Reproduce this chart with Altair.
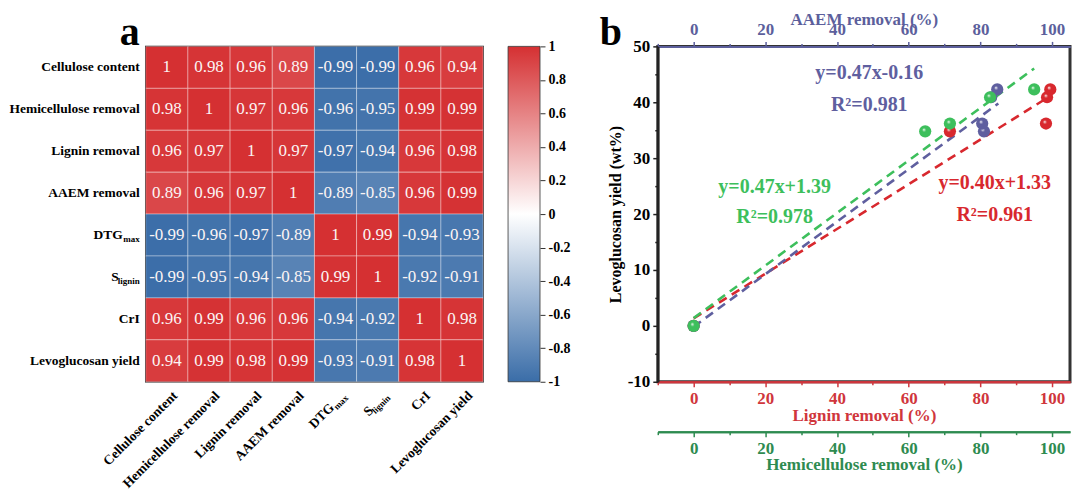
import altair as alt
import pandas as pd

FONT = "Liberation Serif"

# ---------------- panel a : correlation matrix ----------------
var_keys = ["Cellulose content", "Hemicellulose removal", "Lignin removal", "AAEM removal",
            "DTGmax", "Slignin", "CrI", "Levoglucosan yield"]
plain_keys = ["Cellulose content", "Hemicellulose removal", "Lignin removal", "AAEM removal",
              "CrI", "Levoglucosan yield"]
sub_keys = ["DTGmax", "Slignin"]
sub_main = ["DTG", "S"]
sub_small = ["max", "lignin"]
sub_width = [17, 21]

corr_cellulose = [1, 0.98, 0.96, 0.89, -0.99, -0.99, 0.96, 0.94]
corr_hemi = [0.98, 1, 0.97, 0.96, -0.96, -0.95, 0.99, 0.99]
corr_lignin = [0.96, 0.97, 1, 0.97, -0.97, -0.94, 0.96, 0.98]
corr_aaem = [0.89, 0.96, 0.97, 1, -0.89, -0.85, 0.96, 0.99]
corr_dtg = [-0.99, -0.96, -0.97, -0.89, 1, 0.99, -0.94, -0.93]
corr_slig = [-0.99, -0.95, -0.94, -0.85, 0.99, 1, -0.92, -0.91]
corr_cri = [0.96, 0.99, 0.96, 0.96, -0.94, -0.92, 1, 0.98]
corr_lg = [0.94, 0.99, 0.98, 0.99, -0.93, -0.91, 0.98, 1]
corr_rows = [corr_cellulose, corr_hemi, corr_lignin, corr_aaem,
             corr_dtg, corr_slig, corr_cri, corr_lg]

cbar_ticks = [-1, -0.8, -0.6, -0.4, -0.2, 0, 0.2, 0.4, 0.6, 0.8, 1]

HEAT_RED = "#D53032"
HEAT_BLUE = "#3A6DA8"

# ---------------- panel b : levoglucosan yield vs removal ----------------
yield_vals = [0, 34.8, 36.2, 40.9, 42.3]
lignin_x = [0, 71.5, 98.3, 98.6, 99.5]
hemi_x = [0, 64.6, 71.5, 82.7, 95.0]
aaem_x = [0, 81.0, 80.5, 83.0, 84.7]

fit_names = ["lignin", "hemi", "aaem"]
fit_slope = [0.40, 0.47, 0.47]
fit_intercept = [1.33, 1.39, -0.16]
fit_xmax = [99.5, 95.0, 85.0]

eq_text = ["y=0.47x-0.16", "R\u00b2=0.981", "y=0.47x+1.39", "R\u00b2=0.978",
           "y=0.40x+1.33", "R\u00b2=0.961"]
eq_x = [49, 49, 22.6, 22.6, 84, 84]
eq_y = [45.2, 39.5, 24.8, 19.5, 25.5, 19.8]

RED = "#D8282E"
GREEN = "#3DBF5C"
BLUE = "#5F5F9F"
AX_RED = "#D0363C"
AX_GREEN = "#2E8B50"
AX_BLUE = "#5C5F9C"
eq_color = [BLUE, BLUE, GREEN, GREEN, RED, RED]

# ======================= heatmap =======================
HW, HH = 338, 336
cells = []
for r, vals in zip(var_keys, corr_rows):
    for c, v in zip(var_keys, vals):
        cells.append({"row": r, "col": c, "value": v, "label": f"{v:g}"})
cells = pd.DataFrame(cells)

xcol = alt.X("col:N", sort=var_keys, axis=None, scale=alt.Scale(domain=var_keys))
yrow = alt.Y("row:N", sort=var_keys, axis=None, scale=alt.Scale(domain=var_keys))

rects = alt.Chart(cells).mark_rect(stroke="#ffffff", strokeWidth=1, strokeOpacity=0.35).encode(
    x=xcol, y=yrow,
    color=alt.Color("value:Q", legend=None,
                    scale=alt.Scale(domain=[-1, 0, 1], range=[HEAT_BLUE, "#ffffff", HEAT_RED],
                                    interpolate="rgb")),
)
cell_txt = alt.Chart(cells).mark_text(font=FONT, fontSize=17, color="#fbf4f4").encode(
    x=xcol, y=yrow, text="label:N")

row_plain = pd.DataFrame({"row": plain_keys, "col": plain_keys})
row_lab = alt.Chart(row_plain).mark_text(
    font=FONT, fontSize=13.5, fontWeight="bold", color="black", align="right", baseline="middle"
).encode(y=yrow, x=alt.value(-6), text="row:N")

col_lab = alt.Chart(row_plain).mark_text(
    font=FONT, fontSize=13.5, fontWeight="bold", color="black", align="right", baseline="middle",
    angle=315, dx=6, dy=6
).encode(x=xcol, y=alt.value(HH + 12), text="col:N")

sub_layers = []
for k, m, s, w in zip(sub_keys, sub_main, sub_small, sub_width):
    d = pd.DataFrame({"row": [k], "col": [k], "main": [m], "sub": [s]})
    b = alt.Chart(d)
    sub_layers.append(b.mark_text(font=FONT, fontSize=13.5, fontWeight="bold", color="black",
                                  align="right", baseline="middle")
                      .encode(y=yrow, x=alt.value(-6 - w), text="main:N"))
    sub_layers.append(b.mark_text(font=FONT, fontSize=9, fontWeight="bold", color="black",
                                  align="right", baseline="middle", dy=4)
                      .encode(y=yrow, x=alt.value(-6), text="sub:N"))
    sub_layers.append(b.mark_text(font=FONT, fontSize=13.5, fontWeight="bold", color="black",
                                  align="right", baseline="middle", angle=315, dx=6 - w, dy=6)
                      .encode(x=xcol, y=alt.value(HH + 12), text="main:N"))
    sub_layers.append(b.mark_text(font=FONT, fontSize=9, fontWeight="bold", color="black",
                                  align="right", baseline="middle", angle=315, dx=6, dy=10)
                      .encode(x=xcol, y=alt.value(HH + 12), text="sub:N"))

cb = pd.DataFrame({"lo": [-1], "hi": [1]})
cbar = alt.Chart(cb).mark_rect(
    fill={"gradient": "linear", "x1": 0, "y1": 0, "x2": 0, "y2": 1,
          "stops": [{"offset": 0, "color": HEAT_RED},
                    {"offset": 0.5, "color": "#ffffff"},
                    {"offset": 1, "color": HEAT_BLUE}]},
    stroke="#333333", strokeWidth=0.8,
).encode(
    x=alt.value(HW + 25), x2=alt.value(HW + 57),
    y=alt.Y("lo:Q", scale=alt.Scale(domain=[-1, 1], nice=False, zero=False),
            axis=alt.Axis(orient="right", offset=57, values=cbar_ticks, title=None, grid=False,
                          domain=False, tickSize=5, tickColor="#333", labelPadding=3,
                          labelFont=FONT, labelFontSize=14, labelFontWeight="bold",
                          labelColor="black", labelFlush=False, labelOverlap=False,
                          labelExpr="toString(round(datum.value*10)/10)")),
    y2="hi:Q",
)

panel_a_lab = alt.Chart(pd.DataFrame({"t": ["a"]})).mark_text(
    font=FONT, fontSize=40, fontWeight="bold", color="black", align="center", baseline="alphabetic"
).encode(x=alt.value(-16), y=alt.value(-1), text="t:N")

heat = alt.layer(rects, cell_txt, row_lab, col_lab, *sub_layers, cbar, panel_a_lab).resolve_scale(
    y="independent").properties(width=HW, height=HH,
                                view=alt.ViewBackground(stroke="#111111", strokeWidth=1.5))

# ======================= scatter =======================
SW, SH = 413, 336
XD = [-10, 105]
YD = [-10, 50]
major_x = [0, 20, 40, 60, 80, 100]
minor_x = [-10, 10, 30, 50, 70, 90]
major_y = [-10, 0, 10, 20, 30, 40, 50]
minor_y = [-5, 5, 15, 25, 35, 45]


def xenc(axis):
    return alt.X("x:Q", scale=alt.Scale(domain=XD, nice=False, zero=False), axis=axis)


def yenc(axis):
    return alt.Y("y:Q", scale=alt.Scale(domain=YD, nice=False, zero=False), axis=axis)


def xaxis(color, orient, title, offset=0, tpad=0, lpad=5):
    return alt.Axis(orient=orient, offset=offset, values=major_x, title=title, titleColor=color,
                    labelColor=color, domainColor=color, tickColor=color, domainWidth=2,
                    tickWidth=1.5, tickSize=5, grid=False, labelFont=FONT, labelFontSize=17,
                    labelFontWeight="bold", titleFont=FONT, titleFontSize=17,
                    titleFontWeight="bold", labelPadding=lpad, titlePadding=tpad,
                    labelFlush=False, labelOverlap=False, labelExpr="toString(datum.value)")


def xminor(color, orient, offset=0):
    return alt.Axis(orient=orient, offset=offset, values=minor_x, title=None, labels=False,
                    domainColor=color, tickColor=color, domainWidth=2, tickWidth=1.5,
                    tickSize=3, grid=False)


yaxis_major = alt.Axis(orient="left", values=major_y, title="Levoglucosan yield (wt%)",
                       titleColor="black", labelColor="black", domainColor="#222",
                       tickColor="#222", domainWidth=2, tickWidth=1.5, tickSize=5, grid=False,
                       labelFont=FONT, labelFontSize=17, labelFontWeight="bold",
                       titleFont=FONT, titleFontSize=16, titleFontWeight="bold",
                       labelPadding=3, titlePadding=4, labelFlush=False, labelOverlap=False,
                       labelExpr="toString(datum.value)")
yaxis_minor = alt.Axis(orient="left", values=minor_y, title=None, labels=False,
                       domainColor="#222", tickColor="#222", domainWidth=2, tickWidth=1.5,
                       tickSize=3, grid=False)

fits = {}
for n, s, b, xm in zip(fit_names, fit_slope, fit_intercept, fit_xmax):
    fits[n] = pd.DataFrame({"x": [0, xm], "y": [b, s * xm + b]})

dash = dict(strokeDash=[9, 6], strokeWidth=2.6)
line_red = alt.Chart(fits["lignin"]).mark_line(color=RED, **dash).encode(
    x=xenc(xaxis(AX_RED, "bottom", "Lignin removal (%)", tpad=1, lpad=4)), y=yenc(yaxis_major))
line_green = alt.Chart(fits["hemi"]).mark_line(color=GREEN, **dash).encode(
    x=xenc(xaxis(AX_GREEN, "bottom", "Hemicellulose removal (%)", offset=50, tpad=0, lpad=4)),
    y=yenc(None))
line_blue = alt.Chart(fits["aaem"]).mark_line(color=BLUE, **dash).encode(
    x=xenc(xaxis(AX_BLUE, "top", "AAEM removal (%)", tpad=-8, lpad=3)), y=yenc(None))


def ball(color):
    return {"gradient": "radial", "x1": 0.38, "y1": 0.35, "r1": 0.0,
            "x2": 0.5, "y2": 0.5, "r2": 0.55,
            "stops": [{"offset": 0, "color": "#ffffff"},
                      {"offset": 0.3, "color": color},
                      {"offset": 1, "color": color}]}


pts_red = alt.Chart(pd.DataFrame({"x": lignin_x, "y": yield_vals})).mark_circle(
    size=150, opacity=1, fill=ball(RED)).encode(
    x=xenc(xminor(AX_RED, "bottom")), y=yenc(yaxis_minor))
pts_blue = alt.Chart(pd.DataFrame({"x": aaem_x, "y": yield_vals})).mark_circle(
    size=150, opacity=1, fill=ball(BLUE)).encode(
    x=xenc(xminor(AX_BLUE, "top")), y=yenc(None))
pts_green = alt.Chart(pd.DataFrame({"x": hemi_x, "y": yield_vals})).mark_circle(
    size=150, opacity=1, fill=ball(GREEN)).encode(
    x=xenc(xminor(AX_GREEN, "bottom", offset=50)), y=yenc(None))

eqs = alt.Chart(pd.DataFrame({"x": eq_x, "y": eq_y, "t": eq_text, "c": eq_color})).mark_text(
    font=FONT, fontSize=20, fontWeight="bold", align="center", baseline="middle").encode(
    x=xenc(None), y=yenc(None), text="t:N", color=alt.Color("c:N", scale=None))

panel_b_lab = alt.Chart(pd.DataFrame({"t": ["b"]})).mark_text(
    font=FONT, fontSize=40, fontWeight="bold", color="black", align="center", baseline="alphabetic"
).encode(x=alt.value(-47), y=alt.value(-1), text="t:N")

scatter = alt.layer(line_red, line_green, line_blue, pts_red, pts_blue, pts_green, eqs,
                    panel_b_lab).resolve_scale(x="independent", y="independent").resolve_axis(
    x="independent", y="independent").properties(
    width=SW, height=SH, view=alt.ViewBackground(stroke="#333333", strokeWidth=3))

chart = alt.hconcat(heat, scatter, spacing=27).configure(
    background="white", padding=0
)

chart.save("out.html", embed_options={"renderer": "svg", "actions": False})
